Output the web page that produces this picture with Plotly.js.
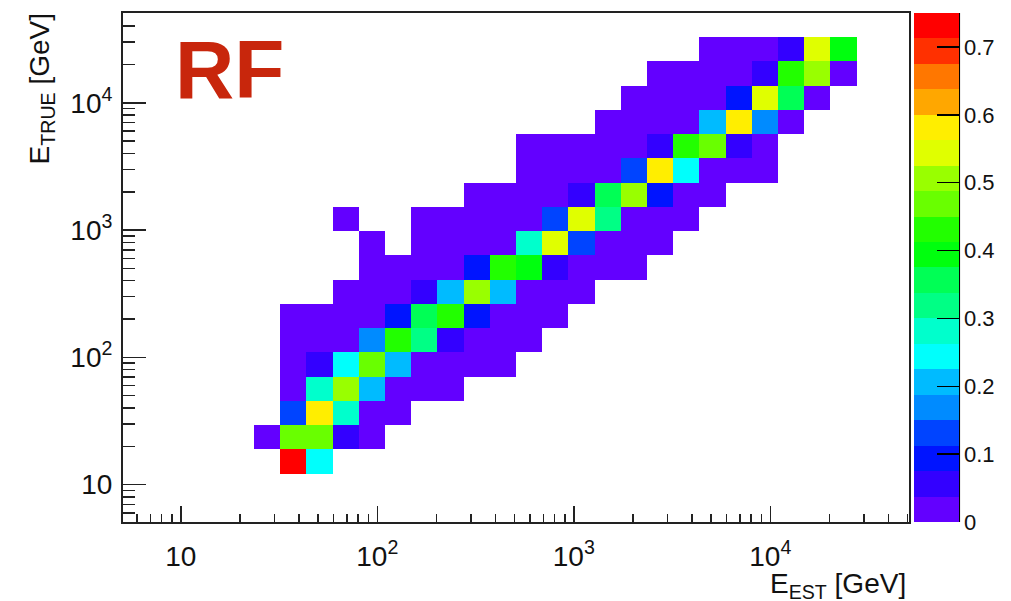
<!DOCTYPE html>
<html>
<head>
<meta charset="utf-8">
<script src="https://cdn.plot.ly/plotly-3.0.1.min.js"></script>
<style>
  html, body { margin: 0; padding: 0; background: #fff; }
  #chart { width: 1011px; height: 601px; }
</style>
</head>
<body>
<div id="chart"></div>
<script>
// ---- Binning of the 2D histogram (log10 of energy in GeV) ----
const xLogMin = 0.706, xLogMax = 4.706, nBinsX = 30;   // E_EST
const yLogMin = 0.706, yLogMax = 4.706, nBinsY = 21;   // E_TRUE

// ---- Cell contents, one array per E_TRUE row (row index from bottom), starting at bin rowStart ----
const rowStart = [null, null, 6, 5, 6, 6, 6, 6, 6, 8, 9, 9, 8, 13, 15, 15, 18, 19, 20, 22, null];
const row00 = [];
const row01 = [];
const row02 = [0.74, 0.24];
const row03 = [0.02, 0.47, 0.46, 0.06, 0.02];
const row04 = [0.13, 0.58, 0.28, 0.03, 0.01];
const row05 = [0.03, 0.28, 0.51, 0.21, 0.03, 0.01, 0.005];
const row06 = [0.02, 0.06, 0.24, 0.47, 0.21, 0.03, 0.02, 0.01, 0.005];
const row07 = [0.01, 0.02, 0.03, 0.17, 0.43, 0.32, 0.06, 0.02, 0.01, 0.005];
const row08 = [0.005, 0.01, 0.02, 0.03, 0.09, 0.36, 0.43, 0.09, 0.02, 0.01, 0.005];
const row09 = [0.01, 0.01, 0.03, 0.06, 0.21, 0.51, 0.21, 0.03, 0.01, 0.005];
const row10 = [0.01, 0.01, 0.02, 0.03, 0.09, 0.43, 0.39, 0.06, 0.02, 0.01, 0.005];
const row11 = [0.005, 0, 0.01, 0.02, 0.02, 0.03, 0.28, 0.54, 0.13, 0.03, 0.01, 0.005];
const row12 = [0.005, 0, 0, 0.005, 0.01, 0.01, 0.02, 0.03, 0.13, 0.54, 0.32, 0.03, 0.01, 0.005];
const row13 = [0.005, 0.01, 0.01, 0.03, 0.06, 0.36, 0.51, 0.09, 0.02, 0.005];
const row14 = [0.005, 0.01, 0.02, 0.03, 0.13, 0.58, 0.24, 0.03, 0.01, 0.005];
const row15 = [0.005, 0.005, 0.01, 0.02, 0.03, 0.06, 0.43, 0.47, 0.06, 0.02];
const row16 = [0.005, 0.01, 0.02, 0.03, 0.21, 0.58, 0.17, 0.02];
const row17 = [0.005, 0.01, 0.02, 0.03, 0.09, 0.54, 0.36, 0.02];
const row18 = [0.005, 0.01, 0.02, 0.03, 0.06, 0.43, 0.51, 0.03];
const row19 = [0.01, 0.02, 0.03, 0.06, 0.54, 0.39];
const row20 = [];
const rows = [row00, row01, row02, row03, row04, row05, row06, row07, row08, row09, row10,
              row11, row12, row13, row14, row15, row16, row17, row18, row19, row20];

// ---- Axis tick labels ----
const majorTicks = [10, 100, 1000, 10000];
const majorTickText = ['10', '10<sup>2</sup>', '10<sup>3</sup>', '10<sup>4</sup>'];
const colorTicks = [0, 0.1, 0.2, 0.3, 0.4, 0.5, 0.6, 0.7];
const zMax = 0.75;

// ---- ROOT "pretty" palette, 20 contour levels (violet -> red) ----
const palette = ['#6300ff', '#3300ff', '#0014ff', '#0044ff', '#008bff', '#00bbff', '#00fffc',
                 '#00ffcc', '#00ff85', '#00ff55', '#00ff0e', '#22ff00', '#69ff00', '#99ff00',
                 '#e0ff00', '#ffee00', '#ffa700', '#ff7700', '#ff3000', '#ff0000'];

// ---- Build the heatmap inputs ----
const xEdges = [];
for (let k = 0; k <= nBinsX; k++) xEdges.push(Math.pow(10, xLogMin + k * (xLogMax - xLogMin) / nBinsX));
const yEdges = [];
for (let j = 0; j <= nBinsY; j++) yEdges.push(Math.pow(10, yLogMin + j * (yLogMax - yLogMin) / nBinsY));

const z = rows.map((vals, j) => {
  const r = new Array(nBinsX).fill(null);
  const s = rowStart[j];
  if (s !== null) vals.forEach((v, i) => { r[s + i] = v > 0 ? v : null; });
  return r;
});

const colorscale = [];
palette.forEach((c, i) => {
  colorscale.push([i / palette.length, c]);
  colorscale.push([(i + 1) / palette.length, c]);
});

const minorTicks = [];
[1, 10, 100, 1000, 10000].forEach(d => { for (let m = 2; m <= 9; m++) minorTicks.push(m * d); });

const FONT = 'Liberation Sans, Arial, Helvetica, sans-serif';
const axisCommon = {
  type: 'log',
  tickmode: 'array',
  tickvals: majorTicks,
  ticktext: majorTickText,
  ticks: 'inside',
  tickwidth: 1.5,
  tickcolor: '#222',
  showline: true,
  linecolor: '#222',
  linewidth: 2,
  mirror: true,
  showgrid: false,
  zeroline: false,
  tickfont: { family: FONT, size: 28, color: '#111' },
};

const trace = {
  type: 'heatmap',
  x: xEdges,
  y: yEdges,
  z: z,
  zmin: 0,
  zmax: zMax,
  colorscale: colorscale,
  hoverinfo: 'skip',
  colorbar: {
    thickness: 45,
    thicknessmode: 'pixels',
    len: 1,
    lenmode: 'fraction',
    x: 1.0068,
    xanchor: 'left',
    xpad: 0,
    y: 0.5,
    yanchor: 'middle',
    ypad: 0,
    outlinewidth: 0,
    tickmode: 'array',
    tickvals: colorTicks,
    ticktext: colorTicks.map(v => String(v)),
    ticks: 'inside',
    ticklen: 22,
    tickwidth: 1.5,
    tickcolor: '#000',
    tickfont: { family: FONT, size: 22, color: '#111' },
  },
};

const layout = {
  width: 1011,
  height: 601,
  margin: { l: 123, r: 102, t: 13, b: 79, pad: 0, autoexpand: false },
  paper_bgcolor: '#fff',
  plot_bgcolor: '#fff',
  font: { family: FONT, color: '#111' },
  showlegend: false,
  xaxis: Object.assign({}, axisCommon, {
    range: [xLogMin, xLogMax],
    ticklen: 16,
    ticklabelstandoff: 8,
    minor: { tickmode: 'array', tickvals: minorTicks, ticks: 'inside', ticklen: 8, tickwidth: 1.5, tickcolor: '#222', showgrid: false },
  }),
  yaxis: Object.assign({}, axisCommon, {
    range: [yLogMin, yLogMax],
    ticklen: 23,
    ticklabelstandoff: 3,
    minor: { tickmode: 'array', tickvals: minorTicks, ticks: 'inside', ticklen: 12, tickwidth: 1.5, tickcolor: '#222', showgrid: false },
  }),
  shapes: [
    { type: 'line', xref: 'paper', yref: 'paper', x0: 1.0637, x1: 1.0637, y0: 0, y1: 1,
      line: { color: '#000', width: 2 } },
  ],
  annotations: [
    { text: '<b>RF</b>', xref: 'paper', yref: 'paper', x: 0.064, y: 0.982, xanchor: 'left', yanchor: 'top',
      showarrow: false, font: { family: FONT, size: 82, color: '#c8260c' } },
    { text: 'E<sub>TRUE</sub> [GeV]', xref: 'paper', yref: 'paper', x: -0.1025, y: 1.003,
      xanchor: 'center', yanchor: 'top', textangle: -90, showarrow: false,
      font: { family: FONT, size: 28, color: '#111' } },
    { text: 'E<sub>EST</sub> [GeV]', xref: 'paper', yref: 'paper', x: 0.999, y: -0.086,
      xanchor: 'right', yanchor: 'top', showarrow: false,
      font: { family: FONT, size: 28, color: '#111' } },
  ],
};

Plotly.newPlot('chart', [trace], layout, { staticPlot: true, displayModeBar: false });
</script>
</body>
</html>
